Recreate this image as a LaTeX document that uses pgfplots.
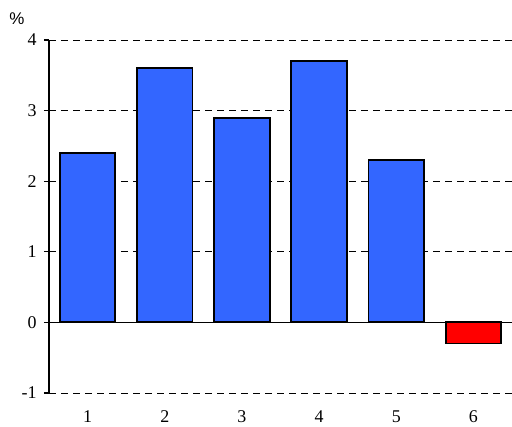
\documentclass[border=0pt]{standalone}
\usepackage{fontspec}
\setmainfont{Liberation Serif}
\newfontfamily\arial{Liberation Sans}
\usepackage{pgfplots}
\pgfplotsset{compat=1.18}

\definecolor{barblue}{HTML}{3366FF}
\definecolor{barred}{HTML}{FF0000}

\begin{document}
\begin{tikzpicture}
\begin{axis}[
    name=ax,
    scale only axis,
    width=463bp, height=353bp,
    xmin=0.5, xmax=6.5,
    ymin=-1, ymax=4,
    axis y line*=left,
    axis x line*=bottom,
    x axis line style={draw=none},
    y axis line style={line width=1.7bp, black, -},
    xtick={1,2,3,4,5,6},
    ytick={-1,0,1,2,3,4},
    major x tick style={draw=none},
    major y tick style={line width=1.3bp, black},
    tick align=outside,
    major tick length=5bp,
    ymajorgrids,
    major grid style={black, line width=0.6bp, dash pattern=on 7bp off 5bp},
    /pgf/number format/assume math mode=true,
    tick label style={font=\fontsize{18}{20}\selectfont},
    yticklabel style={xshift=-4bp},
    xticklabel style={yshift=-9bp},
    ybar, bar width=0.72, bar shift=0pt,
    clip=false,
]
\addplot[fill=barblue, draw=black, line width=1.8bp] coordinates {
    (1,2.4) (2,3.6) (3,2.9) (4,3.7) (5,2.3)
};
\addplot[fill=barred, draw=black, line width=1.8bp] coordinates {
    (6,-0.3)
};
\draw[black, line width=1.6bp] (axis cs:0.5,0) -- (axis cs:6.5,0);
\node[font=\arial\fontsize{17}{19}\selectfont] at ([xshift=-32bp, yshift=21bp]rel axis cs:0,1) {\%};
\end{axis}
\pgfresetboundingbox
\path[use as bounding box] ([xshift=-49bp, yshift=-34bp]ax.south west) rectangle ([yshift=40bp]ax.north east);
\end{tikzpicture}
\end{document}
